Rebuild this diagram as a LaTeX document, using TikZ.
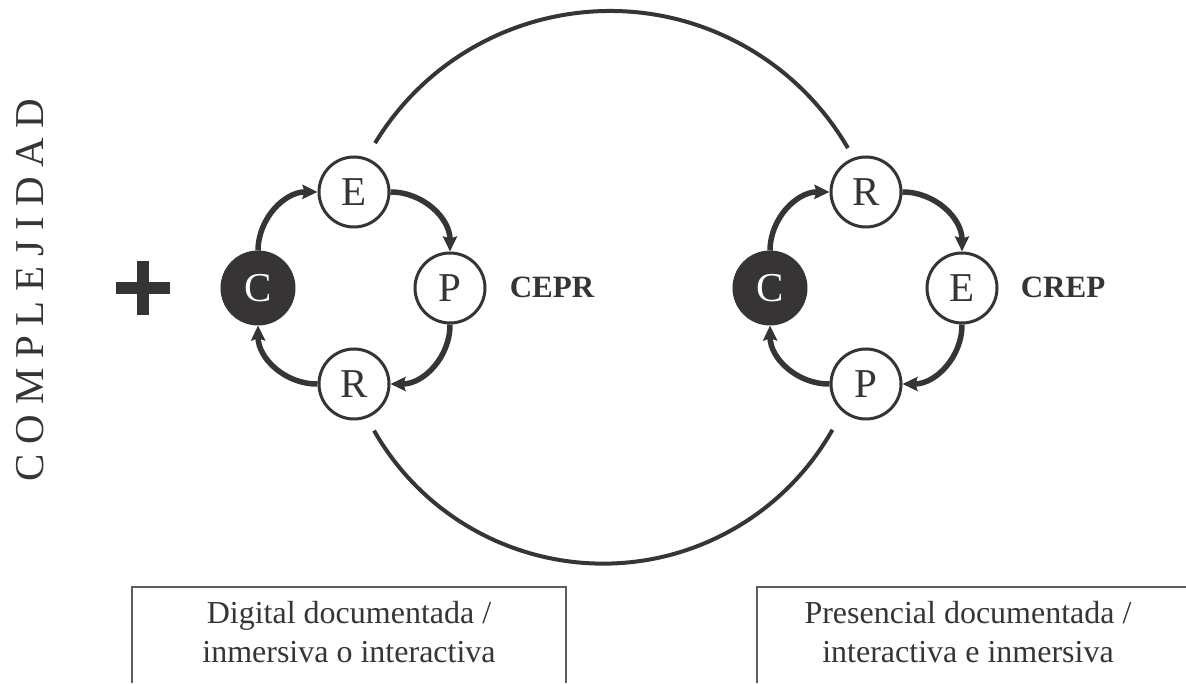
\documentclass[tikz,border=0pt]{standalone}
\usepackage{fontspec}
\setmainfont{Liberation Serif}
\usetikzlibrary{arrows.meta}
\definecolor{ink}{HTML}{363434}
\tikzset{
  x=1pt, y=1pt,
  stage/.style={circle, draw=ink, line width=3pt, fill=white, minimum size=70pt,
    inner sep=0pt, text=ink, font=\fontsize{41}{41}\selectfont},
  start/.style={circle, fill=ink, draw=ink, line width=1pt, minimum size=74pt,
    inner sep=0pt, text=white, font=\fontsize{41}{41}\selectfont},
  flow/.style={draw=ink, line width=5.5pt,
    -{Stealth[length=15pt,width=14pt,inset=2pt]}, bend left=45},
  orbit/.style={draw=ink, line width=4pt},
  tag/.style={text=ink, font=\fontsize{31}{31}\bfseries\selectfont},
  frame/.style={draw=ink!80, line width=1.5pt},
  caption/.style={text=ink, align=center, font=\fontsize{32}{39}\selectfont}
}
\begin{document}
\begin{tikzpicture}
\useasboundingbox (0,0) rectangle (1186,683);

% vertical axis label and plus sign
\node[rotate=90, text=ink, font=\fontsize{41}{41}\selectfont\addfontfeature{LetterSpace=24}]
  (axis) at (30,393) {COMPLEJIDAD};
\fill[ink] (116,389) rectangle (170,401);
\fill[ink] (137,368) rectangle (149,422);

% outer linking arcs
\draw[orbit] (610,397) ++(148.7:275) arc[start angle=148.7, end angle=30.1, radius=275];
\draw[orbit] (603,383) ++(209.7:263.6) arc[start angle=209.7, end angle=330.5, radius=263.6];

% left cycle: C -> E -> P -> R -> C
\node[start] (lC) at (258,395) {C};
\node[stage] (lE) at (354,491) {E};
\node[stage] (lP) at (450,395) {P};
\node[stage] (lR) at (354,299) {R};
\draw[flow] (lC) to (lE);
\draw[flow] (lE) to (lP);
\draw[flow] (lP) to (lR);
\draw[flow] (lR) to (lC);
\node[tag] (cepr) at (552,396) {CEPR};

% right cycle: C -> R -> E -> P -> C
\node[start] (rC) at (770,395) {C};
\node[stage] (rR) at (866,491) {R};
\node[stage] (rE) at (962,395) {E};
\node[stage] (rP) at (866,299) {P};
\draw[flow] (rC) to (rR);
\draw[flow] (rR) to (rE);
\draw[flow] (rE) to (rP);
\draw[flow] (rP) to (rC);
\node[tag] (crep) at (1063,396) {CREP};

% captions
\draw[frame] (132,0) -- (132,96) -- (566,96) -- (566,0);
\node[caption, anchor=base] (digital) at (349,21) {Digital documentada /\\inmersiva o interactiva};
\draw[frame] (757,0) -- (757,96) -- (1186,96);
\node[caption, anchor=base] (presencial) at (968,21) {Presencial documentada /\\interactiva e inmersiva};
\end{tikzpicture}
\end{document}
